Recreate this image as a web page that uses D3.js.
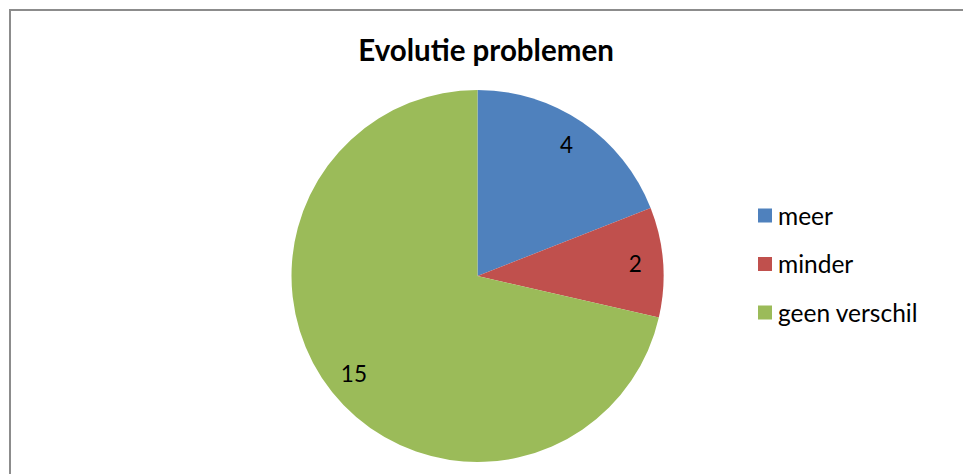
<!DOCTYPE html>
<html>
<head>
<meta charset="utf-8">
<script src="https://cdn.jsdelivr.net/npm/d3@7"></script>
<style>
  html, body { margin: 0; padding: 0; background: #fff; }
  svg { display: block; }
  text { font-family: Lato, "Open Sans", sans-serif; fill: #000; }
</style>
</head>
<body>
<svg id="chart" width="963" height="474"></svg>
<script>
// Survey answers: how the number of problems evolved
const categories = ["meer", "minder", "geen verschil"];
const counts = [4, 2, 15];
const colors = ["#4F81BD", "#C0504D", "#9BBB59"];
const title = "Evolutie problemen";

const W = 963, H = 474;
const svg = d3.select("#chart");

// chart area frame (runs past the right and bottom edges)
svg.append("rect")
  .attr("x", 10).attr("y", 10)
  .attr("width", W + 10).attr("height", H + 10)
  .attr("fill", "#fff")
  .attr("stroke", "#8c8c8c")
  .attr("stroke-width", 2);

svg.append("text")
  .attr("x", 486).attr("y", 61)
  .attr("text-anchor", "middle")
  .style("font-weight", "bold")
  .style("font-size", "29.5px")
  .text(title);

const cx = 477.5, cy = 276, r = 186;
const data = categories.map((c, i) => ({ cat: c, value: counts[i], color: colors[i] }));

const pie = d3.pie().sort(null).value(d => d.value);
const arcs = pie(data);
const arc = d3.arc().innerRadius(0).outerRadius(r);
const labelArc = d3.arc().innerRadius(r * 0.85).outerRadius(r * 0.85);

const g = svg.append("g").attr("transform", `translate(${cx},${cy})`);
g.selectAll("path.slice")
  .data(arcs)
  .join("path")
  .attr("class", "slice")
  .attr("d", arc)
  .attr("fill", d => d.data.color);

g.selectAll("text.val")
  .data(arcs)
  .join("text")
  .attr("class", "val")
  .attr("transform", d => `translate(${labelArc.centroid(d)})`)
  .attr("text-anchor", "middle")
  .attr("dy", "0.35em")
  .style("font-size", "22.5px")
  .text(d => d.data.value);

// legend
const legend = svg.append("g").attr("transform", "translate(758,216)");
const rows = legend.selectAll("g")
  .data(data)
  .join("g")
  .attr("transform", (d, i) => `translate(0,${i * 48.5})`);
rows.append("rect")
  .attr("x", 0).attr("y", -7.5)
  .attr("width", 14).attr("height", 14)
  .attr("fill", d => d.color);
rows.append("text")
  .attr("x", 20).attr("y", 0)
  .attr("dy", "0.35em")
  .style("font-size", "24.5px")
  .text(d => d.cat);
</script>
</body>
</html>
